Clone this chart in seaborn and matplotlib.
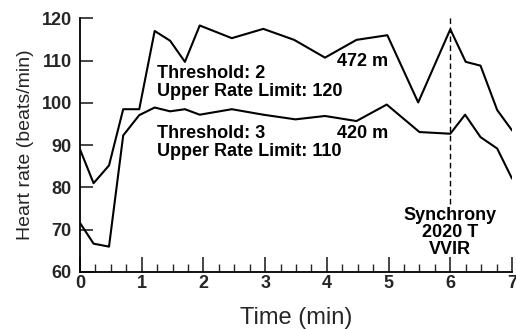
import matplotlib
matplotlib.use("Agg")
import matplotlib.pyplot as plt
import seaborn as sns
import pandas as pd
from matplotlib.ticker import MultipleLocator

# Data
time_upper = [0, 0.22, 0.47, 0.70, 0.96, 1.21, 1.46, 1.70, 1.94, 2.46, 2.97, 3.47,
              3.97, 4.48, 4.98, 5.48, 6.0, 6.25, 6.49, 6.76, 7.0]
hr_upper = [89, 81, 85.2, 98.5, 98.5, 117, 114.7, 109.7, 118.3, 115.3, 117.5, 114.9,
            110.7, 114.9, 116, 100.1, 117.4, 109.7, 108.8, 98.3, 93.5]
time_lower = [0, 0.22, 0.47, 0.70, 0.96, 1.21, 1.46, 1.70, 1.94, 2.46, 2.97, 3.49,
              3.97, 4.48, 4.97, 5.5, 6.0, 6.24, 6.49, 6.76, 7.0]
hr_lower = [71.6, 66.7, 66.0, 92.3, 97.1, 98.9, 98.0, 98.5, 97.2, 98.5, 97.2, 96.1,
            96.9, 95.7, 99.6, 93.1, 92.7, 97.2, 91.9, 89.2, 82.1]

x_ticks = [0, 1, 2, 3, 4, 5, 6, 7]
y_ticks = [60, 70, 80, 90, 100, 110, 120]

sns.set_theme(style="ticks")
plt.rcParams['font.family'] = ['Liberation Sans', 'DejaVu Sans']

df = pd.concat([
    pd.DataFrame({"Time": time_upper, "HR": hr_upper, "series": "upper"}),
    pd.DataFrame({"Time": time_lower, "HR": hr_lower, "series": "lower"}),
])

fig = plt.figure(figsize=(5.16, 3.29), dpi=100)
ax = fig.add_axes([80/516, 1-272/329, 432/516, (272-18.3)/329])

sns.lineplot(data=df, x="Time", y="HR", units="series", estimator=None,
             color="black", linewidth=1.5, sort=False, ax=ax)

ax.plot([6, 6], [76.2, 120.5], color="black", linewidth=1.0, linestyle=(0, (4, 2.5)),
        clip_on=False)

ax.set_xlim(0, 7)
ax.set_ylim(60, 120)
ax.set_xticks(x_ticks)
ax.set_yticks(y_ticks)
ax.xaxis.set_minor_locator(MultipleLocator(0.25))
ax.tick_params(axis="x", which="major", direction="in", length=11, width=1.2, pad=2,
               labelsize=13)
ax.tick_params(axis="x", which="minor", direction="in", length=5.5, width=1.0)
ax.tick_params(axis="y", which="major", direction="in", length=9.5, width=1.2, pad=6,
               labelsize=13)
for lab in ax.get_xticklabels() + ax.get_yticklabels():
    lab.set_fontweight("bold")
sns.despine(ax=ax)
for sp in ["left", "bottom"]:
    ax.spines[sp].set_linewidth(1.3)
    ax.spines[sp].set_color("black")

ax.set_xlabel("Time (min)", fontsize=17, labelpad=11)
ax.set_ylabel("Heart rate (beats/min)", fontsize=14, labelpad=5)

tkw = dict(fontsize=13, fontweight="bold", color="black")
ax.text(1.24, 104.8, "Threshold: 2\nUpper Rate Limit: 120", ha="left", va="center",
        linespacing=1.03, **tkw)
ax.text(1.24, 90.6, "Threshold: 3\nUpper Rate Limit: 110", ha="left", va="center",
        linespacing=1.03, **tkw)
ax.text(4.16, 109.7, "472 m", ha="left", va="center", **tkw)
ax.text(4.16, 92.8, "420 m", ha="left", va="center", **tkw)
ax.text(6.0, 69.4, "Synchrony\n2020 T\nVVIR", ha="center", va="center",
        linespacing=1.0, **tkw)

fig.savefig("out.png", dpi=100)
